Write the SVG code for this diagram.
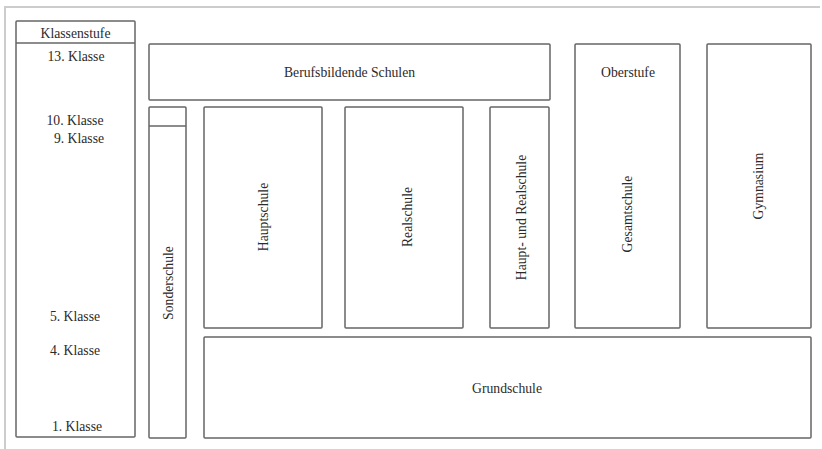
<svg xmlns="http://www.w3.org/2000/svg" width="822" height="449" viewBox="0 0 822 449">
<style>
.b{fill:#fff;stroke:#666;stroke-width:1.5}
.t{font-size:13.7px;fill:#2a2a2a;text-anchor:middle}
.f{fill:none;stroke:#ccc;stroke-width:2}
</style>
<rect width="822" height="449" fill="#fff"/>
<path class="f" d="M5,449 V7 H820"/>
<g font-family="'Liberation Serif', 'DejaVu Serif', 'Times New Roman', serif">
<g id="klassenstufe">
<rect class="b" x="16" y="21" width="119" height="416" rx="1"/>
<line class="b" x1="16" y1="43" x2="135" y2="43"/>
<text class="t" x="75.5" y="37.5">Klassenstufe</text>
<text class="t" x="76" y="60.5">13. Klasse</text>
<text class="t" x="75" y="125">10. Klasse</text>
<text class="t" x="79" y="142.5">9. Klasse</text>
<text class="t" x="75" y="320.5">5. Klasse</text>
<text class="t" x="75" y="355">4. Klasse</text>
<text class="t" x="77" y="431">1. Klasse</text>
</g>
<g id="berufsbildende">
<rect class="b" x="149" y="44" width="401" height="56" rx="1"/>
<text class="t" x="349.5" y="77">Berufsbildende Schulen</text>
</g>
<g id="sonderschule">
<rect class="b" x="149" y="107" width="37" height="331" rx="1"/>
<line class="b" x1="149" y1="126" x2="186" y2="126"/>
<text class="t" transform="translate(173,283) rotate(-90)">Sonderschule</text>
</g>
<g id="hauptschule">
<rect class="b" x="204" y="107" width="118" height="221" rx="1"/>
<text class="t" transform="translate(267.5,217) rotate(-90)">Hauptschule</text>
</g>
<g id="realschule">
<rect class="b" x="345" y="107" width="118" height="221" rx="1"/>
<text class="t" transform="translate(412,217) rotate(-90)">Realschule</text>
</g>
<g id="haupt-real">
<rect class="b" x="490" y="107" width="59" height="221" rx="1"/>
<text class="t" transform="translate(525.5,217.5) rotate(-90)">Haupt- und Realschule</text>
</g>
<g id="gesamtschule">
<rect class="b" x="575" y="44" width="105" height="284" rx="1"/>
<text class="t" x="628" y="77">Oberstufe</text>
<text class="t" transform="translate(632,214) rotate(-90)">Gesamtschule</text>
</g>
<g id="gymnasium">
<rect class="b" x="707" y="44" width="104" height="284" rx="1"/>
<text class="t" transform="translate(762.5,186) rotate(-90)">Gymnasium</text>
</g>
<g id="grundschule">
<rect class="b" x="204" y="337" width="607" height="101" rx="1"/>
<text class="t" x="507" y="393">Grundschule</text>
</g>
</g>
<g id="connectors"/>
</svg>
